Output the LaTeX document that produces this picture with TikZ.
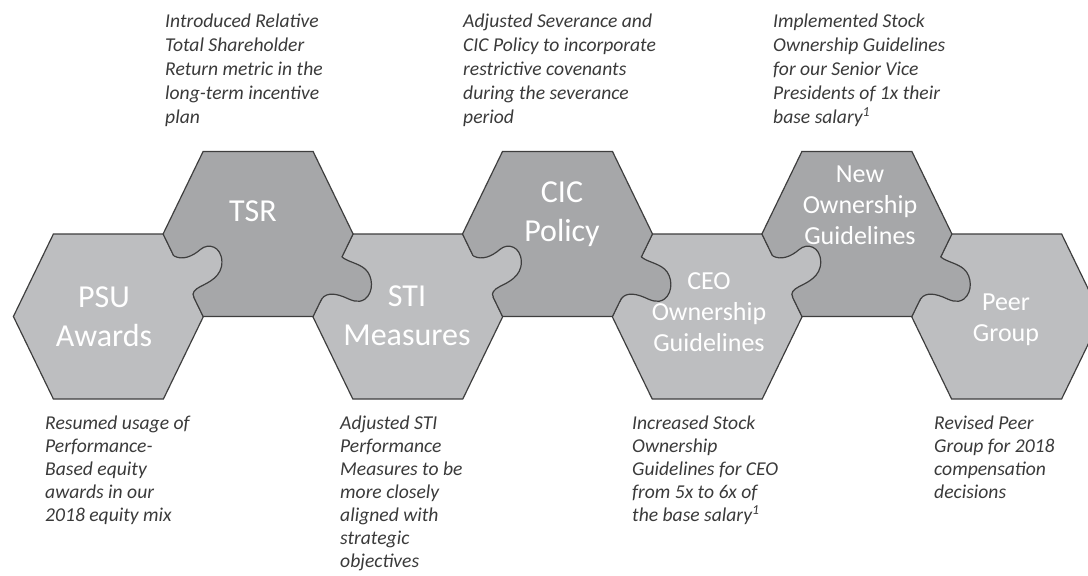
\documentclass[tikz,border=0pt]{standalone}
\usepackage{fontspec}
\setmainfont{Carlito}
\definecolor{lowfill}{RGB}{189,190,192}
\definecolor{upfill}{RGB}{166,167,169}
\definecolor{edgecol}{RGB}{62,62,62}
\definecolor{captxt}{RGB}{58,58,58}
\tikzset{
  hexlow/.style={fill=lowfill,draw=edgecol,line width=1.2pt,line join=miter},
  hexup/.style={fill=upfill,draw=edgecol,line width=1.2pt,line join=miter},
  knobline/.style={draw=edgecol,line width=1.2pt,line cap=round},
  captext/.style={text=captxt,align=left,inner sep=0pt,anchor=north west,
    font=\fontsize{19.6}{24}\selectfont\itshape},
  captextlow/.style={captext,font=\fontsize{19.6}{23}\selectfont\itshape},
  labbig/.style={text=white,align=center,inner sep=0pt,
    font=\fontsize{32}{39}\selectfont},
  labsmall/.style={text=white,align=center,inner sep=0pt,
    font=\fontsize{26}{31}\selectfont}
}
\newcommand\hexpath{(-95,0) -- (-55,-82.5) -- (55,-82.5) -- (95,0) -- (55,82.5) -- (-55,82.5) -- cycle}
% knob of a lower piece on its upper-right edge
\newcommand\riseknob{(65.7,-60.5) .. controls (74,-56) and (84,-60) .. (92,-67) .. controls (100,-74) and (113,-70) .. (113.5,-55) .. controls (114,-40) and (100,-34) .. (92,-30) .. controls (86,-27) and (83,-23) .. (85.5,-19.5)}
% knob of an upper piece on its lower-right edge
\newcommand\fallknob{(83.9,23) .. controls (90,28) and (100,29) .. (107,35) .. controls (115,42) and (116,58) .. (107,65) .. controls (100,70) and (93,66) .. (86,63) .. controls (76,59) and (66,58) .. (62,68)}
\begin{document}
\begin{tikzpicture}[x=1pt,y=-1pt]
\useasboundingbox (0,0) rectangle (1088,576);
\clip (0,0) rectangle (1088,576);
% hexagons
\foreach \cx in {108.4,407.8,707.2,1006.6}{
  \begin{scope}[shift={(\cx,316.5)}]
    \path[hexlow] \hexpath;
  \end{scope}}
\foreach \cx in {258.1,557.5,856.9}{
  \begin{scope}[shift={(\cx,234)}]
    \path[hexup] \hexpath;
  \end{scope}}
% knobs
\foreach \cx in {108.4,407.8,707.2}{
  \begin{scope}[shift={(\cx,316.5)}]
    \fill[lowfill] \riseknob -- (82,-19.5) -- (62.2,-60.5) -- cycle;
    \path[knobline] \riseknob;
  \end{scope}}
\foreach \cx in {258.1,557.5,856.9}{
  \begin{scope}[shift={(\cx,234)}]
    \fill[upfill] \fallknob -- (58.5,68) -- (80.4,23) -- cycle;
    \path[knobline] \fallknob;
  \end{scope}}
% hexagon labels
\node[labbig] (psu) at (104,317) {PSU\\Awards};
\node[labbig] (tsr) at (253,211) {TSR};
\node[labbig] (sti) at (407,316) {STI\\Measures};
\node[labbig] (cic) at (562,214) {CIC\\Policy};
\node[labsmall] (ceo) at (709,312) {CEO\\Ownership\\Guidelines};
\node[labsmall] (new) at (860,205) {New\\Ownership\\Guidelines};
\node[labsmall] (peer) at (1006,320) {Peer\\Group};
% captions
\node[captext] (t1) at (165,14) {Introduced Relative\\Total Shareholder\\Return metric in the\\long-term incentive\\plan};
\node[captext] (t2) at (463,14) {Adjusted Severance and\\CIC Policy to incorporate\\restrictive covenants\\during the severance\\period};
\node[captext] (t3) at (773,14) {Implemented Stock\\Ownership Guidelines\\for our Senior Vice\\Presidents of 1x their\\base salary\textsuperscript{1}};
\node[captextlow] (b1) at (45,416) {Resumed usage of\\Performance-\\Based equity\\awards in our\\2018 equity mix};
\node[captextlow] (b2) at (340,416) {Adjusted STI\\Performance\\Measures to be\\more closely\\aligned with\\strategic\\objectives};
\node[captextlow] (b3) at (632,416) {Increased Stock\\Ownership\\Guidelines for CEO\\from 5x to 6x of\\the base salary\textsuperscript{1}};
\node[captextlow] (b4) at (934,416) {Revised Peer\\Group for 2018\\compensation\\decisions};
\end{tikzpicture}
\end{document}
